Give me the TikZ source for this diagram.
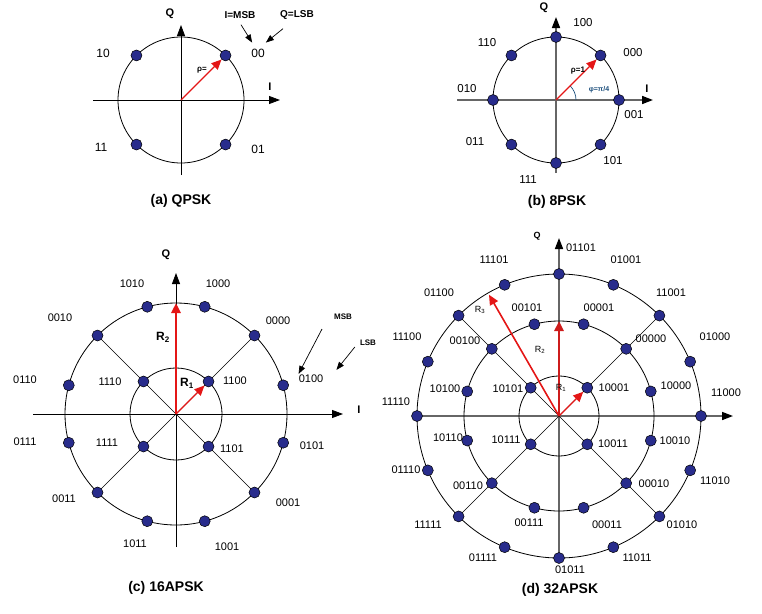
\documentclass[tikz,border=0pt]{standalone}
\usepackage{fontspec}
\setmainfont{Liberation Sans}
\usetikzlibrary{arrows.meta, calc, backgrounds}

\definecolor{dotblue}{RGB}{40,44,140}
\definecolor{vecred}{RGB}{228,22,22}
\definecolor{darkvec}{RGB}{205,28,28}
\definecolor{phiblue}{RGB}{30,80,125}

\begin{document}
\begin{tikzpicture}[
      x=1pt, y=1pt,
      dotnode/.style={
          circle,
          draw=black,
          line width=0.5pt,
          fill=dotblue,
          minimum size=11pt,
          inner sep=0pt
      },
      lbl/.style={inner sep=0pt, font=\fontsize{11}{12}\selectfont},
      biglbl/.style={inner sep=0pt, font=\fontsize{12}{13}\selectfont},
      axlbl/.style={inner sep=0pt, font=\bfseries\fontsize{11}{12}\selectfont},
      smallbold/.style={inner sep=0pt, font=\bfseries\fontsize{8}{9}\selectfont},
      caption/.style={inner sep=0pt, font=\bfseries\fontsize{14}{16}\selectfont},
      ring/.style={draw=black, line width=0.8pt},
      spoke/.style={draw=black, line width=0.6pt},
      axis/.style={-{Triangle[length=11pt,width=8pt]}, line width=0.8pt},
      grayaxis/.style={-{Triangle[length=11pt,width=8pt,color=black]}, draw=black!60, line width=1.6pt},
      pointer/.style={-{Triangle[length=8pt,width=6pt]}, line width=0.7pt},
      redvec/.style={-{Triangle[length=10pt,width=9pt]}, draw=vecred, line width=1.3pt}
  ]
      \useasboundingbox (0,0) rectangle (762,-613);

      % --- (a) QPSK ---
      \coordinate (o1) at (181,-100);
      \coordinate (xa1) at (93,-100);
      \coordinate (xb1) at (280,-100);
      \coordinate (ya1) at (181,-175);
      \coordinate (yb1) at (181,-25);
      \draw[ring] (o1) circle (63);
      \draw[axis] (xa1) -- (xb1);
      \draw[axis] (ya1) -- (yb1);
      \foreach \a/\n in {45/00, 135/10, 225/11, 315/01}
          \node[dotnode] (q\n) at ($(o1)+(\a:63)$) {};
      \foreach \x/\y/\s in {258/53/00, 103/53/10, 101/147/11, 258/149/01}
          \node[biglbl] (lq\s) at (\x,-\y) {\s};
      \node[axlbl] (q1) at (170,-14) {Q};
      \node[axlbl] (i1) at (270,-87) {I};
      \node[axlbl, font=\bfseries\fontsize{10}{12}\selectfont] (msb1) at (240,-15) {I=MSB};
      \node[axlbl, font=\bfseries\fontsize{10}{12}\selectfont] (lsb1) at (297,-15) {Q=LSB};
      \draw[pointer] ($(msb1.south)+(1,-6)$) -- ($(lq00.north west)+(1,6)$);
      \draw[pointer] ($(lsb1.south)+(-14,-9)$) -- ($(lq00.north east)+(1,6)$);
      \draw[redvec] (o1) -- (q00);
      \node[smallbold] (rho1) at (202,-70) {ρ=};
      \node[caption] (cap1) at (181,-201) {(a) QPSK};

      % --- (b) 8PSK ---
      \coordinate (o2) at (556,-100);
      \coordinate (xa2) at (457,-100);
      \coordinate (xb2) at (653,-100);
      \coordinate (ya2) at (556,-173);
      \coordinate (yb2) at (556,-17);
      \draw[ring] (o2) circle (63);
      \draw[grayaxis] (xa2) -- (xb2);
      \draw[grayaxis] (ya2) -- (yb2);
      \foreach \a/\n in {0/001, 45/000, 90/100, 135/110, 180/010, 225/011, 270/111, 315/101}
          \node[dotnode] (p\n) at ($(o2)+(\a:63)$) {};
      \foreach \x/\y/\s in {583/23/100, 633/53/000, 634/115/001, 613/161/101,
                            528/180/111, 475/142/011, 467/89/010, 487/43/110}
          \node[lbl, font=\fontsize{11.5}{12}\selectfont] (lp\s) at (\x,-\y) {\s};
      \node[axlbl] (q2) at (544,-8) {Q};
      \node[axlbl] (i2) at (647,-89) {I};
      \draw[phiblue, line width=0.7pt] ($(o2)+(20,0)$) arc (0:45:20);
      \draw[redvec] (o2) -- (p000);
      \node[smallbold] (rho2) at (578,-71) {ρ=1};
      \node[smallbold, text=phiblue, font=\bfseries\fontsize{7}{8}\selectfont] (phi2) at (599,-90) {φ=π/4};
      \node[caption] (cap2) at (557,-202) {(b) 8PSK};

      % --- (c) 16APSK ---
      \coordinate (o3) at (176,-414);
      \coordinate (xa3) at (33,-414);
      \coordinate (xb3) at (343,-414);
      \coordinate (ya3) at (176,-547);
      \coordinate (yb3) at (176,-273);
      \coordinate (t3) at ($(o3)+(0,111)$);
      \draw[ring] (o3) circle (111);
      \draw[ring] (o3) circle (46);
      \draw[axis] (xa3) -- (xb3);
      \draw[axis] (ya3) -- (yb3);
      \foreach \a/\n in {15/0100, 45/0000, 75/1000, 105/1010, 135/0010, 165/0110,
                         195/0111, 225/0011, 255/1011, 285/1001, 315/0001, 345/0101}
          \node[dotnode] (a\n) at ($(o3)+(\a:111)$) {};
      \foreach \a/\n in {45/1100, 135/1110, 225/1111, 315/1101}
          \node[dotnode] (a\n) at ($(o3)+(\a:46)$) {};
      \begin{pgfonlayer}{background}
          \foreach \n in {0000, 0010, 0011, 0001}
              \draw[spoke] (o3) -- (a\n.center);
      \end{pgfonlayer}
      \foreach \x/\y/\s in {132/284/1010, 218/284/1000, 60/318/0010, 278/321/0000,
                            25/380/0110, 110/382/1110, 235/381/1100, 311/379/0100,
                            25/442/0111, 107/443/1111, 232/449/1101, 312/446/0101,
                            64/499/0011, 288/503/0001, 135/544/1011, 227/547/1001}
          \node[lbl] (la\s) at (\x,-\y) {\s};
      \node[axlbl] (q3) at (166,-255) {Q};
      \node[axlbl] (i3) at (359,-410) {I};
      \draw[redvec, line width=2.6pt] (o3) -- (t3);
      \draw[redvec] (o3) -- (a1100);
      \node[axlbl, font=\bfseries\fontsize{12}{13}\selectfont] (r2c) at (163,-337) {R\textsubscript{2}};
      \node[axlbl, font=\bfseries\fontsize{12}{13}\selectfont] (r1c) at (187,-383) {R\textsubscript{1}};
      \node[smallbold] (msb3) at (343,-317) {MSB};
      \node[smallbold] (lsb3) at (368,-343) {LSB};
      \draw[pointer] ($(msb3.south)+(-21,-9)$) -- ($(la0100.north west)+(0,1)$);
      \draw[pointer] ($(lsb3.south west)+(-5,-1)$) -- ($(la0100.north east)+(13,5)$);
      \node[caption] (cap3) at (166,-588) {(c) 16APSK};

      % --- (d) 32APSK ---
      \coordinate (o4) at (559,-416);
      \coordinate (xb4) at (733,-416);
      \coordinate (yb4) at (559,-238);
      \coordinate (t4) at ($(o4)+(0,95)$);
      \coordinate (r4) at ($(o4)+(120:140)$);
      \draw[ring] (o4) circle (142);
      \draw[ring] (o4) circle (95);
      \draw[ring] (o4) circle (40);
      \foreach \a/\n in {0/11000, 22.5/01000, 45/11001, 67.5/01001, 90/01101, 112.5/11101,
                         135/01100, 157.5/11100, 180/11110, 202.5/01110, 225/11111,
                         247.5/01111, 270/01011, 292.5/11011, 315/01010, 337.5/11010}
          \node[dotnode] (b\n) at ($(o4)+(\a:142)$) {};
      \foreach \a/\n in {15/10000, 45/00000, 75/00001, 105/00101, 135/00100, 165/10100,
                         195/10110, 225/00110, 255/00111, 285/00011, 315/00010, 345/10010}
          \node[dotnode] (b\n) at ($(o4)+(\a:95)$) {};
      \foreach \a/\n in {45/10001, 135/10101, 225/10111, 315/10011}
          \node[dotnode] (b\n) at ($(o4)+(\a:40)$) {};
      \begin{pgfonlayer}{background}
          \draw[grayaxis] (b11110.center) -- (xb4);
          \draw[grayaxis] (b01011.center) -- (yb4);
          \foreach \n in {11001, 01100, 11111, 01010}
              \draw[spoke] (o4) -- (b\n.center);
      \end{pgfonlayer}
      \foreach \x/\y/\s in {581/248/01101, 494/260/11101, 626/260/01001, 439/293/01100,
                            671/293/11001, 527/308/00101, 599/308/00001, 407/337/11100,
                            465/341/00100, 651/339/00000, 715/337/01000, 445/389/10100,
                            508/389/10101, 614/388/10001, 676/386/10000, 726/393/11000,
                            396/402/11110, 448/438/10110, 506/440/10111, 613/444/10011,
                            675/441/10010, 406/470/01110, 468/486/00110, 654/484/00010,
                            715/481/11010, 428/525/11111, 529/523/00111, 607/525/00011,
                            682/525/01010, 483/558/01111, 637/558/11011, 570/570/01011}
          \node[lbl] (lb\s) at (\x,-\y) {\s};
      \node[smallbold, font=\bfseries\fontsize{9}{10}\selectfont] (q4) at (537,-236) {Q};
      \draw[redvec, line width=1.6pt] (o4) -- (r4);
      \draw[redvec, draw=darkvec, line width=2.6pt] (o4) -- (t4);
      \draw[redvec] (o4) -- (b10001);
      \node[lbl, font=\fontsize{9}{10}\selectfont] (r3d) at (480,-310) {R\textsubscript{3}};
      \node[lbl, font=\fontsize{9}{10}\selectfont] (r2d) at (540,-350) {R\textsubscript{2}};
      \node[lbl, font=\fontsize{9}{10}\selectfont] (r1d) at (561,-388) {R\textsubscript{1}};
      \node[caption] (cap4) at (560,-590) {(d) 32APSK};

  \end{tikzpicture}
\end{document}
